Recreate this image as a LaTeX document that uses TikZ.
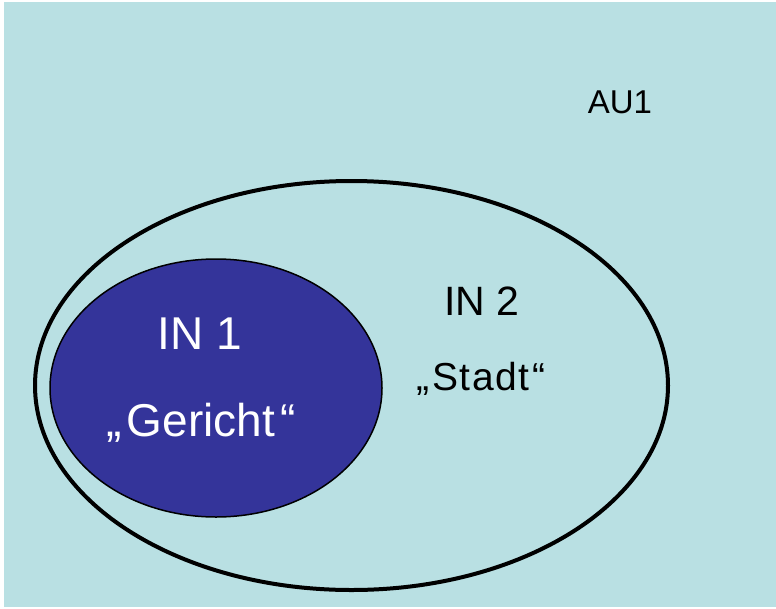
\documentclass[tikz,border=0pt]{standalone}
\usepackage{fontspec}
\setmainfont{Liberation Sans}
\newfontfamily\spacedfont[LetterSpace=4]{Liberation Sans}
\usetikzlibrary{shapes.geometric}
\definecolor{bgcyan}{HTML}{B9E0E3}
\definecolor{darkblue}{HTML}{34349A}
\tikzset{
  setbox/.style={ellipse, inner sep=0pt, draw=black},
  lbl/.style={anchor=base, inner sep=0pt},
}
\begin{document}
\begin{tikzpicture}[x=1pt,y=-1pt]
\useasboundingbox (0,0) rectangle (776,608);
\fill[bgcyan] (4,2) rectangle (776,607);
\node[setbox, line width=4pt, minimum width=633pt, minimum height=409pt] (outer) at (351.5,385.5) {};
\node[setbox, fill=darkblue, line width=1.5pt, minimum width=332pt, minimum height=258pt] (inner) at (216,388) {};
\node[lbl, text=white, font=\fontsize{46}{50}\selectfont] (in1) at (200,349) {IN 1};
\node[lbl, text=white, font=\fontsize{46}{50}\selectfont] (gericht) at (201,436) {„\hspace{0.12em}Gericht\hspace{0.12em}“};
\node[lbl, font=\fontsize{41}{45}\selectfont] (in2) at (482,315) {IN 2};
\node[lbl, font=\fontsize{39}{43}\spacedfont] (stadt) at (481,390) {„\hspace{0.08em}Stadt\hspace{0.08em}“};
\node[lbl, font=\fontsize{33}{37}\selectfont] (au1) at (620,113) {AU1};
\end{tikzpicture}
\end{document}
